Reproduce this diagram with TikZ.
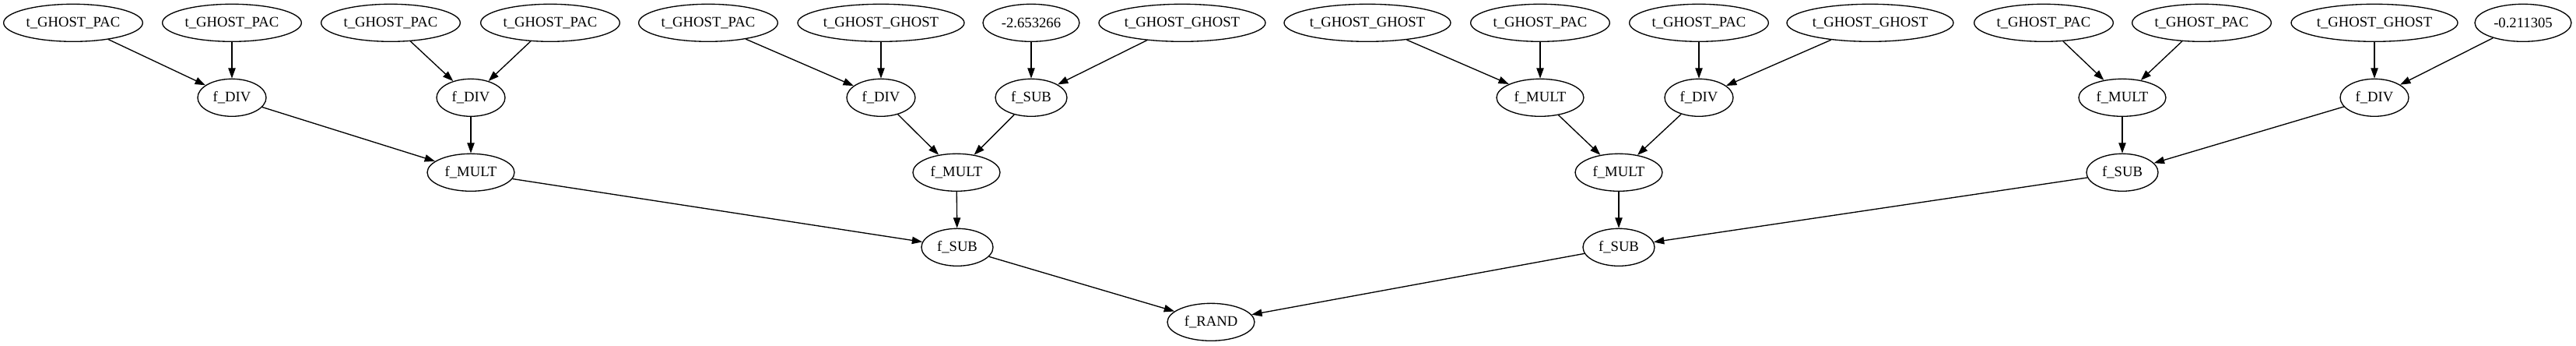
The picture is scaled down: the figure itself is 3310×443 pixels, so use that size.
\documentclass[tikz,border=0pt]{standalone}
\usepackage{fontspec}
\setmainfont{Liberation Serif}
\usetikzlibrary{arrows.meta,shapes.geometric}
\tikzset{
  nd/.style={ellipse,draw,line width=1pt,inner sep=0pt,minimum height=36pt,font=\fontsize{14pt}{16pt}\selectfont},
  wpac/.style={nd,minimum width=134pt},
  wgg/.style={nd,minimum width=160.5pt},
  wnum/.style={nd,minimum width=93pt},
  wdiv/.style={nd,minimum width=66pt},
  wmult/.style={nd,minimum width=84pt},
  wsub/.style={nd,minimum width=69pt},
  edge/.style={line width=1pt,-{Triangle[length=10pt,width=7pt]}}
}
\begin{document}
\begin{tikzpicture}[x=0.75pt,y=-0.75pt]
\useasboundingbox (0,0) rectangle (3310,443);
% row 1
\node[wpac] (a1) at (94,29.3) {t\_GHOST\_PAC};
\node[wpac] (a2) at (298,29.3) {t\_GHOST\_PAC};
\node[wpac] (a3) at (502,29.3) {t\_GHOST\_PAC};
\node[wpac] (a4) at (707,29.3) {t\_GHOST\_PAC};
\node[wpac] (a5) at (910,29.3) {t\_GHOST\_PAC};
\node[wgg] (a6) at (1132,29.3) {t\_GHOST\_GHOST};
\node[wnum] (a7) at (1325,29.3) {-2.653266};
\node[wgg] (a8) at (1519,29.3) {t\_GHOST\_GHOST};
\node[wgg] (a9) at (1757,29.3) {t\_GHOST\_GHOST};
\node[wpac] (a10) at (1979,29.3) {t\_GHOST\_PAC};
\node[wpac] (a11) at (2183,29.3) {t\_GHOST\_PAC};
\node[wgg] (a12) at (2403,29.3) {t\_GHOST\_GHOST};
\node[wpac] (a13) at (2626,29.3) {t\_GHOST\_PAC};
\node[wpac] (a14) at (2829,29.3) {t\_GHOST\_PAC};
\node[wgg] (a15) at (3051,29.3) {t\_GHOST\_GHOST};
\node[wnum] (a16) at (3242,29.3) {-0.211305};
% row 2
\node[wdiv] (b1) at (298,125.3) {f\_DIV};
\node[wdiv] (b2) at (605,125.3) {f\_DIV};
\node[wdiv] (b3) at (1132,125.3) {f\_DIV};
\node[wsub] (b4) at (1325,125.3) {f\_SUB};
\node[wmult] (b5) at (1979,125.3) {f\_MULT};
\node[wdiv] (b6) at (2183,125.3) {f\_DIV};
\node[wmult] (b7) at (2727,125.3) {f\_MULT};
\node[wdiv] (b8) at (3051,125.3) {f\_DIV};
% row 3
\node[wmult] (c1) at (605,221.3) {f\_MULT};
\node[wmult] (c2) at (1229,221.3) {f\_MULT};
\node[wmult] (c3) at (2080,221.3) {f\_MULT};
\node[wsub] (c4) at (2727,221.3) {f\_SUB};
% row 4
\node[wsub] (d1) at (1230,317.3) {f\_SUB};
\node[wsub] (d2) at (2080,317.3) {f\_SUB};
% row 5
\node[wmult] (e) at (1556,413.3) {f\_RAND};
% edges
\draw[edge] (a1) -- (b1);
\draw[edge] (a2) -- (b1);
\draw[edge] (a3) -- (b2);
\draw[edge] (a4) -- (b2);
\draw[edge] (a5) -- (b3);
\draw[edge] (a6) -- (b3);
\draw[edge] (a7) -- (b4);
\draw[edge] (a8) -- (b4);
\draw[edge] (a9) -- (b5);
\draw[edge] (a10) -- (b5);
\draw[edge] (a11) -- (b6);
\draw[edge] (a12) -- (b6);
\draw[edge] (a13) -- (b7);
\draw[edge] (a14) -- (b7);
\draw[edge] (a15) -- (b8);
\draw[edge] (a16) -- (b8);
\draw[edge] (b1) -- (c1);
\draw[edge] (b2) -- (c1);
\draw[edge] (b3) -- (c2);
\draw[edge] (b4) -- (c2);
\draw[edge] (b5) -- (c3);
\draw[edge] (b6) -- (c3);
\draw[edge] (b7) -- (c4);
\draw[edge] (b8) -- (c4);
\draw[edge] (c1) -- (d1);
\draw[edge] (c2) -- (d1);
\draw[edge] (c3) -- (d2);
\draw[edge] (c4) -- (d2);
\draw[edge] (d1) -- (e);
\draw[edge] (d2) -- (e);
\end{tikzpicture}
\end{document}
